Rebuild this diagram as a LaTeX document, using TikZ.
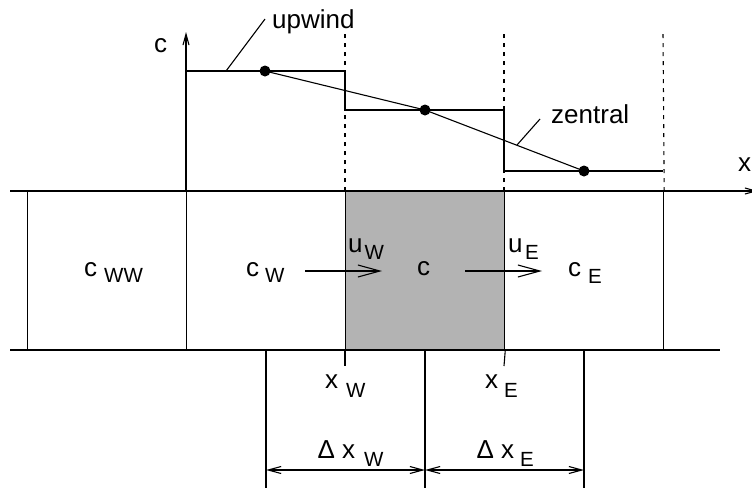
\documentclass[tikz,border=0pt]{standalone}
\usepackage{fontspec}
\setmainfont{Liberation Sans}
\usetikzlibrary{arrows.meta}
\definecolor{cellgray}{RGB}{179,179,179}
\newcommand{\mf}{\fontsize{26}{31}\selectfont}
\newcommand{\sfn}{\fontsize{20.5}{24}\selectfont}
% #1 main, #2 gap, #3 drop, #4 subscript
\newcommand{\lbl}[4]{{\mf #1}\hspace{#2}\raisebox{-#3}{\sfn #4}}
\tikzset{
  thin line/.style={line width=1.1pt, black},
  cellbox/.style={draw, line width=1.2pt, minimum width=159pt, minimum height=159pt, inner sep=0pt, anchor=north west},
  txt/.style={inner sep=0pt, anchor=base west, font=\mf},
  dot/.style={circle, fill=black, minimum size=11pt, inner sep=0pt},
  flow/.style={thin line, -{Straight Barb[length=22pt,width=12pt]}},
  axis/.style={thin line, -{Straight Barb[length=11pt,width=6pt]}},
  dim/.style={thin line, {Straight Barb[length=13pt,width=7pt]}-{Straight Barb[length=13pt,width=7pt]}},
  guide/.style={line width=1.1pt, dash pattern=on 4pt off 5pt},
}
\begin{document}
\begin{tikzpicture}[x=1pt,y=-1pt]
\useasboundingbox (0,0) rectangle (752,488);
% cells
\node[cellbox] (cww) at (27,191) {};
\node[cellbox] (cw) at (186,191) {};
\node[cellbox, fill=cellgray] (cp) at (345,191) {};
\node[cellbox] (ce) at (504,191) {};
% horizontal lines
\coordinate (tl) at (10,191);
\coordinate (tr) at (758,191);
\coordinate (bl) at (10,350);
\coordinate (br) at (720,350);
\draw[axis] (tl) -- (tr);
\draw[thin line] (bl) -- (br);
% c axis
\coordinate (cax) at (186,32);
\draw[axis] (cw.north west) -- (cax);
% dashed guides
\coordinate (g1) at (345,32);
\coordinate (g2) at (504,32);
\coordinate (g3) at (663,32);
\draw[guide] (cp.north west) -- (g1);
\draw[guide] (ce.north west) -- (g2);
\draw[guide] (ce.north east) -- (g3);
% upwind steps
\coordinate (s1) at (186,71);
\coordinate (s2) at (345,71);
\coordinate (s3) at (345,110);
\coordinate (s4) at (504,110);
\coordinate (s5) at (504,171);
\coordinate (s6) at (663,171);
\draw[thin line] (s1) -- (s2) -- (s3) -- (s4) -- (s5) -- (s6);
% central points
\node[dot] (d1) at (265,71) {};
\node[dot] (d2) at (425,110) {};
\node[dot] (d3) at (584,171) {};
\draw[thin line] (d1.center) -- (d2.center) -- (d3.center);
% leaders
\coordinate (ua) at (265,19);
\coordinate (ub) at (226,71);
\draw[thin line] (ua) -- (ub);
\coordinate (za) at (540,119);
\coordinate (zb) at (517,145);
\draw[thin line] (za) -- (zb);
\node[txt] (lup) at (272,28) {upwind};
\node[txt] (lze) at (551,123) {zentral};
\node[txt] (lc) at (154,52) {c};
\node[txt] (lx) at (738,171) {x};
% cell labels
\node[txt] (lcww) at (84,276) {\lbl{c}{7pt}{6pt}{WW}};
\node[txt] (lcw) at (246,276) {\lbl{c}{6pt}{6pt}{W}};
\node[txt] (lcp) at (417,275) {c};
\node[txt] (lce) at (568,276) {\lbl{c}{7pt}{7pt}{E}};
\node[txt] (luw) at (348,252) {\lbl{u}{2pt}{7pt}{W}};
\node[txt] (lue) at (508,252) {\lbl{u}{2.5pt}{7pt}{E}};
% flow arrows
\coordinate (f1a) at (305,271);
\coordinate (f1b) at (382,271);
\coordinate (f2a) at (465,271);
\coordinate (f2b) at (542,271);
\draw[flow] (f1a) -- (f1b);
\draw[flow] (f2a) -- (f2b);
% ticks
\coordinate (t1) at (345,366);
\coordinate (t2) at (504,366);
\draw[thin line] (cp.south west) -- (t1);
\draw[thin line] (cp.south east) -- (t2);
\node[txt] (lxw) at (325,388) {\lbl{x}{8pt}{9pt}{W}};
\node[txt] (lxe) at (485,388) {\lbl{x}{6pt}{9pt}{E}};
% dimension lines
\coordinate (v1a) at (266,350);
\coordinate (v1b) at (266,488);
\coordinate (v2a) at (425,350);
\coordinate (v2b) at (425,488);
\coordinate (v3a) at (584,350);
\coordinate (v3b) at (584,488);
\draw[thin line] (v1a) -- (v1b);
\draw[thin line] (v2a) -- (v2b);
\draw[thin line] (v3a) -- (v3b);
\coordinate (a1) at (266,470);
\coordinate (a2) at (425,470);
\coordinate (a3) at (584,470);
\draw[dim] (a1) -- (a2);
\draw[dim] (a2) -- (a3);
\node[txt] (ldw) at (317.5,458) {\lbl{Δ\hspace{7pt}x}{9pt}{8pt}{W}};
\node[txt] (lde) at (476.5,458) {\lbl{Δ\hspace{7pt}x}{6pt}{8pt}{E}};
\end{tikzpicture}
\end{document}
